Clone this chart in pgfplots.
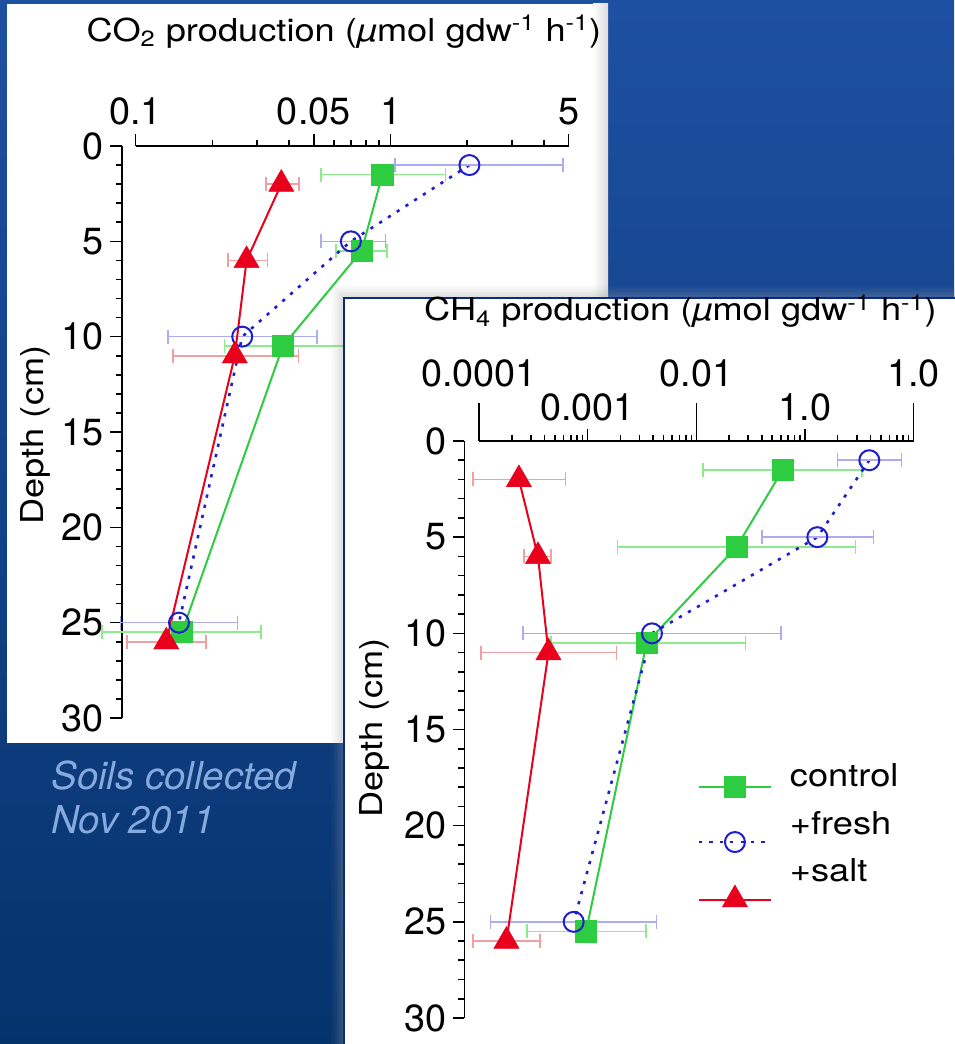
\documentclass[border=0pt]{standalone}
\usepackage{fontspec}
\setmainfont{TeX Gyre Heros}[FakeStretch=1.15]
\newfontfamily\plainfont{TeX Gyre Heros}
\usepackage{pgfplots}
\usepackage{pgfplotstable}
\pgfplotsset{compat=1.18}
\pgfkeys{/pgf/number format/assume math mode=true}

% legend sample drawn a little below its text, without changing the row height
\pgfplotsset{
  lowered legend/.style={legend image code/.code={%
    \path[draw=none, fill=none] (0pt,0pt) -- (36pt,0pt);
    \pgfinterruptboundingbox
    \draw[mark repeat=2, mark phase=2, ##1, yshift=#1]
      plot coordinates {(0pt,0pt) (18pt,0pt) (36pt,0pt)};
    \endpgfinterruptboundingbox}},
}

\definecolor{ctrlc}{RGB}{46,204,64}
\definecolor{ctrlbar}{RGB}{140,235,140}
\definecolor{frshc}{RGB}{30,30,205}
\definecolor{frshbar}{RGB}{172,172,240}
\definecolor{sltc}{RGB}{232,0,28}
\definecolor{sltbar}{RGB}{240,160,160}
\definecolor{bgtop}{RGB}{30,80,162}
\definecolor{bgbot}{RGB}{6,50,108}
\definecolor{frame}{RGB}{12,42,132}
\definecolor{note}{RGB}{135,170,222}

% CO2 production (umol gdw^-1 h^-1): depth, mean, lower and upper error
\pgfplotstableread{
depth val em ep
1.5 0.930 0.397 0.712
5.5 0.770 0.159 0.201
10.5 0.378 0.155 0.322
25.5 0.152 0.0783 0.158
}\coCtrl
\pgfplotstableread{
depth val em ep
1 2.04 1.00 2.71
5 0.699 0.166 0.256
10 0.262 0.128 0.254
25 0.148 0.0606 0.103
}\coFresh
\pgfplotstableread{
depth val em ep
2 0.373 0.049 0.065
6 0.2725 0.0425 0.0565
11 0.245 0.105 0.190
26 0.132 0.0397 0.057
}\coSalt

% CH4 production (umol gdw^-1 h^-1)
\pgfplotstableread{
depth val em ep
1.5 0.0624 0.05087 0.2726
5.5 0.02353 0.02164 0.26947
10.5 0.00349 0.00303 0.02491
25.5 0.000966 0.000691 0.002494
}\chCtrl
\pgfplotstableread{
depth val em ep
1 0.391 0.191 0.386
5 0.130 0.090 0.296
10 0.00391 0.003657 0.05629
25 0.000744 0.000616 0.003556
}\chFresh
\pgfplotstableread{
depth val em ep
2 0.000233 0.0001444 0.00039
6 0.000349 0.000088 0.000111
11 0.000436 0.000332 0.001404
26 0.000179 0.0000909 0.000183
}\chSalt

\begin{document}
\begin{tikzpicture}
\useasboundingbox (0,0) rectangle (477pt,522pt);
% slide background
\shade[top color=bgtop, bottom color=bgbot] (0,0) rectangle (477pt,522pt);

% CO2 panel
\fill[white] (3.5pt,150.5pt) rectangle (304pt,520pt);
\shade[left color=white, right color=black!14] (296.5pt,150.5pt) rectangle (304pt,520pt);

\begin{axis}[
  at={(61pt,449pt)}, anchor=north west,
  scale only axis, width=223.35pt, height=286pt, clip=false,
  xmode=log, xmin=0.08845, xmax=5,
  ymin=0, ymax=30, y dir=reverse,
  axis x line*=top, axis y line*=left,
  x axis line style={draw=none},
  y axis line style={black, line width=0.8pt},
  xtick={0.1,0.5,1,5}, xticklabels={0.1,0.05,1,5},
  minor xtick={0.2,0.3,0.4,0.6,0.7,0.8,0.9,2,3,4},
  ytick={0,5,...,30},
  minor ytick={1,2,3,4,6,7,8,9,11,12,13,14,16,17,18,19,21,22,23,24,26,27,28,29},
  tick align=outside, major tick length=6pt, minor tick length=3.2pt,
  every tick/.style={black, line width=0.8pt},
  tick label style={font=\plainfont\fontsize{18.9}{21}\selectfont},
  xticklabel style={anchor=south, inner sep=0pt, yshift=4.5pt},
  yticklabel style={anchor=east, inner sep=0pt, xshift=-3pt},
  title={CO\textsubscript{2} production (\textit{µ}mol gdw\textsuperscript{-1} h\textsuperscript{-1})},
  title style={at={(axis description cs:0.497,1.1621)}, font=\fontsize{15.75}{18}\selectfont, anchor=base, inner sep=0pt},
  ylabel={Depth (cm)},
  ylabel style={at={(axis description cs:-0.1948,0.4948)}, anchor=center, inner sep=0pt, font=\fontsize{15.75}{18}\selectfont},
]
\draw[black, line width=0.8pt] (axis cs:0.1,0) -- (axis cs:5,0);
\addplot[color=ctrlc, line width=1pt, mark=square*, mark size=5.3pt,
    mark options={solid, line width=0.4pt, fill=ctrlc},
    error bars/.cd, x dir=both, x explicit,
    error bar style={ctrlbar, line width=0.8pt, solid},
    error mark options={rotate=90, ctrlbar, line width=0.8pt, mark size=3.5pt, solid}]
  table[x=val, y=depth, x error minus=em, x error plus=ep] {\coCtrl};
\addplot[color=frshc, line width=1.3pt, dash pattern=on 1.6pt off 3.6pt,
    mark=o, mark size=5pt, mark options={solid, line width=1pt},
    error bars/.cd, x dir=both, x explicit,
    error bar style={frshbar, line width=0.8pt, solid},
    error mark options={rotate=90, frshbar, line width=0.8pt, mark size=3.5pt, solid}]
  table[x=val, y=depth, x error minus=em, x error plus=ep] {\coFresh};
\addplot[color=sltc, line width=1pt, mark=triangle*, mark size=7.3pt,
    mark options={solid, line width=0.2pt, fill=sltc},
    error bars/.cd, x dir=both, x explicit,
    error bar style={sltbar, line width=0.8pt, solid},
    error mark options={rotate=90, sltbar, line width=0.8pt, mark size=3.5pt, solid}]
  table[x=val, y=depth, x error minus=em, x error plus=ep] {\coSalt};
\end{axis}

% CH4 panel with its soft shadow
\foreach \k/\o in {1/0.30,2/0.24,3/0.18,4/0.12,5/0.07,6/0.03}
  \draw[black!40, opacity=\o, line width=1pt] ({172pt-\k*1pt},-5pt) -- ({172pt-\k*1pt},{373pt+\k*1pt}) -- (480pt,{373pt+\k*1pt});
\fill[white] (172pt,-2pt) rectangle (480pt,373pt);
\draw[frame, line width=1pt] (172pt,-2pt) -- (172pt,373pt) -- (480pt,373pt);

\begin{axis}[
  at={(232.25pt,301.5pt)}, anchor=north west,
  scale only axis, width=224.55pt, height=288.5pt, clip=false,
  xmode=log, xmin=7.355e-5, xmax=1,
  ymin=0, ymax=30, y dir=reverse,
  axis x line*=top, axis y line*=left,
  x axis line style={draw=none},
  y axis line style={black, line width=0.8pt},
  xtick={0.001,0.1}, xticklabels={0.001,1.0},
  extra x ticks={0.0001,0.01,1}, extra x tick labels={0.0001,0.01,1.0},
  extra x tick style={major tick length=19pt, xticklabel style={yshift=3.7pt}},
  minor xtick={2e-4,3e-4,4e-4,5e-4,6e-4,7e-4,8e-4,9e-4,
    2e-3,3e-3,4e-3,5e-3,6e-3,7e-3,8e-3,9e-3,
    2e-2,3e-2,4e-2,5e-2,6e-2,7e-2,8e-2,9e-2,
    2e-1,3e-1,4e-1,5e-1,6e-1,7e-1,8e-1,9e-1},
  ytick={0,5,...,30},
  minor ytick={1,2,3,4,6,7,8,9,11,12,13,14,16,17,18,19,21,22,23,24,26,27,28,29},
  tick align=outside, major tick length=6pt, minor tick length=3.2pt,
  every tick/.style={black, line width=0.8pt},
  tick label style={font=\plainfont\fontsize{18.9}{21}\selectfont},
  xticklabel style={anchor=south, inner sep=0pt, yshift=4pt},
  yticklabel style={anchor=east, inner sep=0pt, xshift=-3pt},
  title={CH\textsubscript{4} production (\textit{µ}mol gdw\textsuperscript{-1} h\textsuperscript{-1})},
  title style={at={(axis description cs:0.481,1.1872)}, font=\fontsize{15.75}{18}\selectfont, anchor=base, inner sep=0pt},
  ylabel={Depth (cm)},
  ylabel style={at={(axis description cs:-0.2015,0.5026)}, anchor=center, inner sep=0pt, font=\fontsize{15.75}{18}\selectfont},
  legend cell align=left,
  legend style={at={(axis description cs:0.522,0.441)}, anchor=north west,
    draw=none, fill=none, inner sep=0pt, outer sep=0pt,
    row sep=8.75pt, column sep=9.5pt,
    font=\fontsize{15.75}{18}\selectfont,
    nodes={inner sep=0pt, text height=11.5pt, text depth=3.5pt}},
]
\draw[black, line width=0.8pt] (axis cs:0.0001,0) -- (axis cs:1,0);
\addplot[color=ctrlc, line width=1pt, mark=square*, mark size=5.3pt,
    mark options={solid, line width=0.4pt, fill=ctrlc},
    lowered legend=-4pt,
    error bars/.cd, x dir=both, x explicit,
    error bar style={ctrlbar, line width=0.8pt, solid},
    error mark options={rotate=90, ctrlbar, line width=0.8pt, mark size=3.5pt, solid}]
  table[x=val, y=depth, x error minus=em, x error plus=ep] {\chCtrl};
\addlegendentry{control}
\addplot[color=frshc, line width=1.3pt, dash pattern=on 1.6pt off 3.6pt,
    mark=o, mark size=5pt, mark options={solid, line width=1pt},
    lowered legend=-8pt,
    error bars/.cd, x dir=both, x explicit,
    error bar style={frshbar, line width=0.8pt, solid},
    error mark options={rotate=90, frshbar, line width=0.8pt, mark size=3.5pt, solid}]
  table[x=val, y=depth, x error minus=em, x error plus=ep] {\chFresh};
\addlegendentry{+fresh}
\addplot[color=sltc, line width=1pt, mark=triangle*, mark size=7.3pt,
    mark options={solid, line width=0.2pt, fill=sltc},
    lowered legend=-13pt,
    error bars/.cd, x dir=both, x explicit,
    error bar style={sltbar, line width=0.8pt, solid},
    error mark options={rotate=90, sltbar, line width=0.8pt, mark size=3.5pt, solid}]
  table[x=val, y=depth, x error minus=em, x error plus=ep] {\chSalt};
\addlegendentry{+salt}
\end{axis}

\node[anchor=base west, inner sep=0pt, text=note, font=\plainfont\itshape\fontsize{19.2}{22}\selectfont] at (25.5pt,127.35pt) {Soils collected};
\node[anchor=base west, inner sep=0pt, text=note, font=\plainfont\itshape\fontsize{19.2}{22}\selectfont] at (25.5pt,105.35pt) {Nov 2011};
\end{tikzpicture}
\end{document}
